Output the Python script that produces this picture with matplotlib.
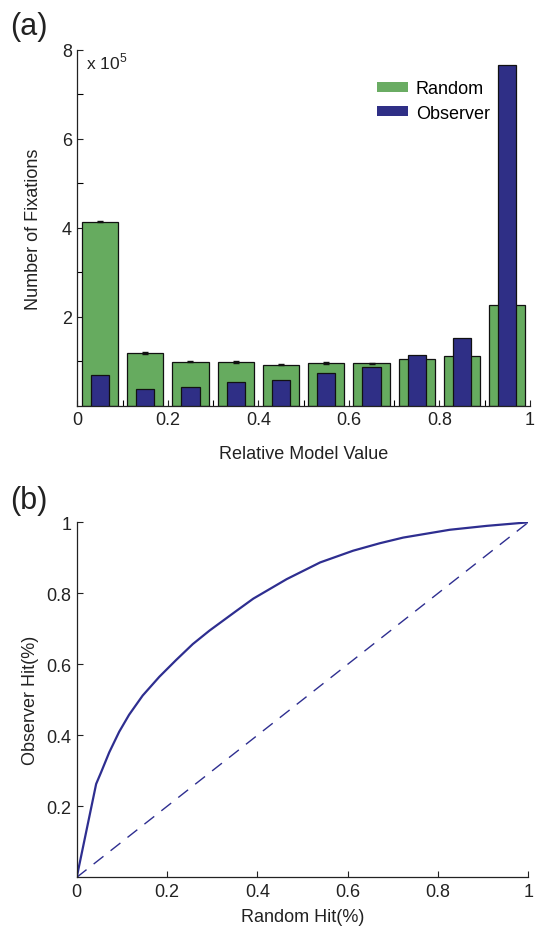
import matplotlib
matplotlib.use('Agg')
import matplotlib.pyplot as plt
from matplotlib.patches import Patch
import numpy as np

plt.rcParams['font.family'] = ['Liberation Sans', 'DejaVu Sans']
plt.rcParams['mathtext.fontset'] = 'custom'
plt.rcParams['mathtext.rm'] = 'Liberation Sans'

# histogram of relative model value (counts in units of 1e5)
bin_centers = [0.05, 0.15, 0.25, 0.35, 0.45, 0.55, 0.65, 0.75, 0.85, 0.95]
random_counts = [4.14, 1.18, 0.99, 0.98, 0.92, 0.96, 0.95, 1.04, 1.11, 2.26]
random_err = [0.02, 0.02, 0.015, 0.015, 0.015, 0.015, 0.015, 0.01, 0.01, 0.01]
observer_counts = [0.69, 0.38, 0.43, 0.53, 0.57, 0.73, 0.86, 1.13, 1.53, 7.66]

# ROC curve
random_hit = [0, 0.043, 0.054, 0.072, 0.094, 0.116, 0.146, 0.183, 0.220,
              0.257, 0.294, 0.353, 0.391, 0.465, 0.539, 0.612, 0.671,
              0.723, 0.826, 0.908, 1.0]
observer_hit = [0, 0.263, 0.296, 0.352, 0.410, 0.458, 0.512, 0.565, 0.612,
                0.657, 0.695, 0.750, 0.785, 0.840, 0.887, 0.920, 0.941,
                0.957, 0.979, 0.990, 1.0]

green = '#66ab5f'
navy = '#2f2f86'
line_blue = '#2e2e90'
ink = '#222222'

fig = plt.figure(figsize=(5.38, 9.37), dpi=100)
ax1 = fig.add_axes([0.1437, 0.566, 0.8413, 0.3796])
ax2 = fig.add_axes([0.1426, 0.0626, 0.8394, 0.3789])

for ax in (ax1, ax2):
    ax.spines['top'].set_visible(False)
    ax.spines['right'].set_visible(False)
    for s in ('left', 'bottom'):
        ax.spines[s].set_linewidth(0.9)
        ax.spines[s].set_color(ink)
    ax.tick_params(direction='in', length=4, width=0.8, labelsize=13,
                   colors=ink, pad=4)
    ax.tick_params(which='minor', direction='in', length=4, width=0.8)

# panel (a)
ax1.bar(bin_centers, random_counts, width=0.08, color=green,
        edgecolor='#111111', linewidth=0.9, zorder=2)
ax1.errorbar(bin_centers, random_counts, yerr=random_err, fmt='none',
             ecolor='#111111', elinewidth=0.8, capsize=2.5, zorder=3)
ax1.bar(bin_centers, observer_counts, width=0.04, color=navy,
        edgecolor='#111111', linewidth=0.9, zorder=4)
ax1.set_xlim(0, 1)
ax1.set_ylim(0, 8)
ax1.set_xticks(np.arange(0, 1.01, 0.2))
ax1.set_xticklabels(['0', '0.2', '0.4', '0.6', '0.8', '1'])
ax1.set_xticks(np.arange(0.1, 1.0, 0.2), minor=True)
ax1.set_yticks([2, 4, 6, 8])
ax1.set_yticks([1, 3, 5, 7], minor=True)
ax1.set_xlabel('Relative Model Value', fontsize=13, color=ink, labelpad=12)
ax1.set_ylabel('Number of Fixations', fontsize=13, color=ink, labelpad=14)
ax1.text(0.02, 7.75, r'x 10$^5$', fontsize=12.5, color=ink,
         va='center', ha='left')
handles = [Patch(facecolor='#6aac63', edgecolor='none', label='Random'),
           Patch(facecolor=navy, edgecolor='none', label='Observer')]
ax1.legend(handles=handles, loc='upper left', bbox_to_anchor=(0.626, 0.96),
           frameon=False, fontsize=13, handlelength=1.7, handleheight=0.45,
           handletextpad=0.45, labelspacing=0.4)

# panel (b)
ax2.plot(random_hit, observer_hit, color=line_blue, linewidth=1.6)
ax2.plot([0, 1], [0, 1], color=line_blue, linewidth=1.0,
         linestyle=(0, (9, 6.5)))
ax2.set_xlim(0, 1)
ax2.set_ylim(0, 1)
ax2.set_xticks(np.arange(0, 1.01, 0.2))
ax2.set_xticklabels(['0', '0.2', '0.4', '0.6', '0.8', '1'])
ax2.set_yticks([0.2, 0.4, 0.6, 0.8, 1.0])
ax2.set_yticklabels(['0.2', '0.4', '0.6', '0.8', '1'])
ax2.set_xlabel('Random Hit(%)', fontsize=13, color=ink, labelpad=6)
ax2.set_ylabel('Observer Hit(%)', fontsize=13, color=ink, labelpad=5)

fig.text(0.018, 0.963, '(a)', fontsize=22, color=ink)
fig.text(0.018, 0.457, '(b)', fontsize=22, color=ink)

fig.savefig('out.png', dpi=100)
